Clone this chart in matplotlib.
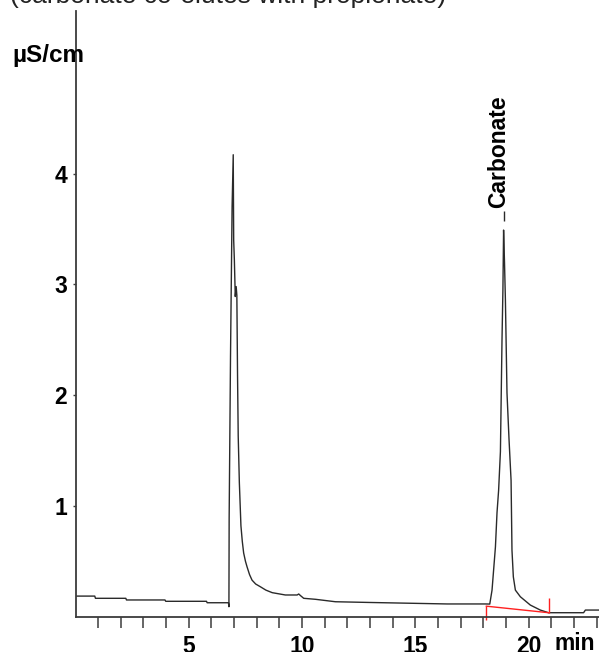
import matplotlib
matplotlib.use("Agg")
import matplotlib.pyplot as plt

# chromatogram trace (time in min, signal in uS/cm)
time_min = [0.0, 0.85, 0.88, 2.22, 2.25, 3.95, 3.98, 5.78, 5.81, 6.75, 6.77,
            6.78, 6.84, 6.91, 6.96, 6.98, 7.01, 7.05, 7.09, 7.12, 7.15, 7.18,
            7.23, 7.30, 7.36, 7.42, 7.50, 7.57, 7.68, 7.79, 7.95, 8.16, 8.40,
            8.68, 9.26, 9.78, 9.85, 9.93,
            10.07, 10.59, 11.47, 13.1, 16.4, 18.1, 18.28, 18.38, 18.53, 18.6,
            18.67, 18.75, 18.82, 18.86, 18.89, 18.93, 18.97, 19.04, 19.13,
            19.22, 19.26, 19.32, 19.41, 19.63, 20.07, 20.51, 20.87, 22.42, 22.5, 23.1]
signal = [0.186, 0.186, 0.166, 0.166, 0.151, 0.151, 0.139, 0.139, 0.126, 0.126, 0.09,
          0.89, 2.35, 3.70, 4.17, 3.40, 3.22, 2.89, 2.98, 2.90, 2.18, 1.63,
          1.21, 0.82, 0.68, 0.575, 0.50, 0.45, 0.38, 0.33, 0.295, 0.27, 0.24,
          0.217, 0.196, 0.196, 0.205, 0.19,
          0.166, 0.157, 0.135, 0.128, 0.115, 0.115, 0.114, 0.24, 0.63, 0.94,
          1.14, 1.49, 2.5, 2.95, 3.49, 3.20, 2.86, 2.02, 1.6,
          1.23, 0.60, 0.36, 0.24, 0.18, 0.105, 0.06, 0.036, 0.036, 0.06, 0.06]

# integration baseline of the carbonate peak
peak_start, peak_end = 18.13, 20.88
base_start, base_end = 0.095, 0.036
peak_time, peak_height = 18.89, 3.49
peak_name = "Carbonate"

x_ticks = list(range(1, 24))
x_labels = ["5", "10", "15", "20"]
y_ticks = [1, 2, 3, 4]

FONT = ["Liberation Sans", "DejaVu Sans"]
INK = "#2a2a2a"
AXIS = "#3c3c3c"
RED = "#ff2020"

plt.rcParams["font.family"] = FONT

fig = plt.figure(figsize=(5.99, 6.52), dpi=100, facecolor="white")
ax = fig.add_axes([75.5 / 599, 35.3 / 652, 1 - 75.5 / 599, 606 / 652])

ax.plot(time_min, signal, color=INK, lw=1.0)

# red baseline with start/end markers
ax.plot([peak_start, peak_end], [base_start, base_end], color=RED, lw=1.0)
ax.vlines(peak_start, -0.03, base_start, color=RED, lw=1.0, clip_on=False)
ax.vlines(peak_end, base_end, 0.166, color=RED, lw=1.0)

# peak label
ax.vlines(peak_time, 3.57, 3.66, color=INK, lw=1.0)
ax.text(18.97, 3.69, peak_name, rotation=90, rotation_mode="anchor",
        ha="left", va="baseline", fontsize=16.5, fontweight="bold", color="black")

ax.set_xlim(0, 23.1)
ax.set_ylim(0, 5.47)

ax.set_xticks(x_ticks)
ax.set_xticklabels([str(t) if str(t) in x_labels else "" for t in x_ticks],
                   fontsize=16.5, fontweight="bold")
ax.set_yticks(y_ticks)
ax.set_yticklabels([str(v) for v in y_ticks], fontsize=16.5, fontweight="bold")
ax.tick_params(axis="x", direction="out", length=8, width=1.1, color=AXIS, pad=5)
ax.tick_params(axis="y", direction="out", length=2.2, width=1.0, color=AXIS, pad=4)

for side in ["top", "right"]:
    ax.spines[side].set_visible(False)
for side in ["left", "bottom"]:
    ax.spines[side].set_color(AXIS)
    ax.spines[side].set_linewidth(1.3)

fig.text(10 / 599, 1 - 2.5 / 652, "(carbonate co-elutes with propionate)",
         fontsize=19, color="#222222", va="baseline", ha="left")
fig.text(12 / 599, 1 - 62 / 652, "µS/cm", fontsize=17.5, fontweight="bold",
         va="baseline", ha="left")
fig.text(555 / 599, 2 / 652, "min", fontsize=16.5, fontweight="bold",
         va="baseline", ha="left")

fig.savefig("out.png", dpi=100, facecolor="white")
